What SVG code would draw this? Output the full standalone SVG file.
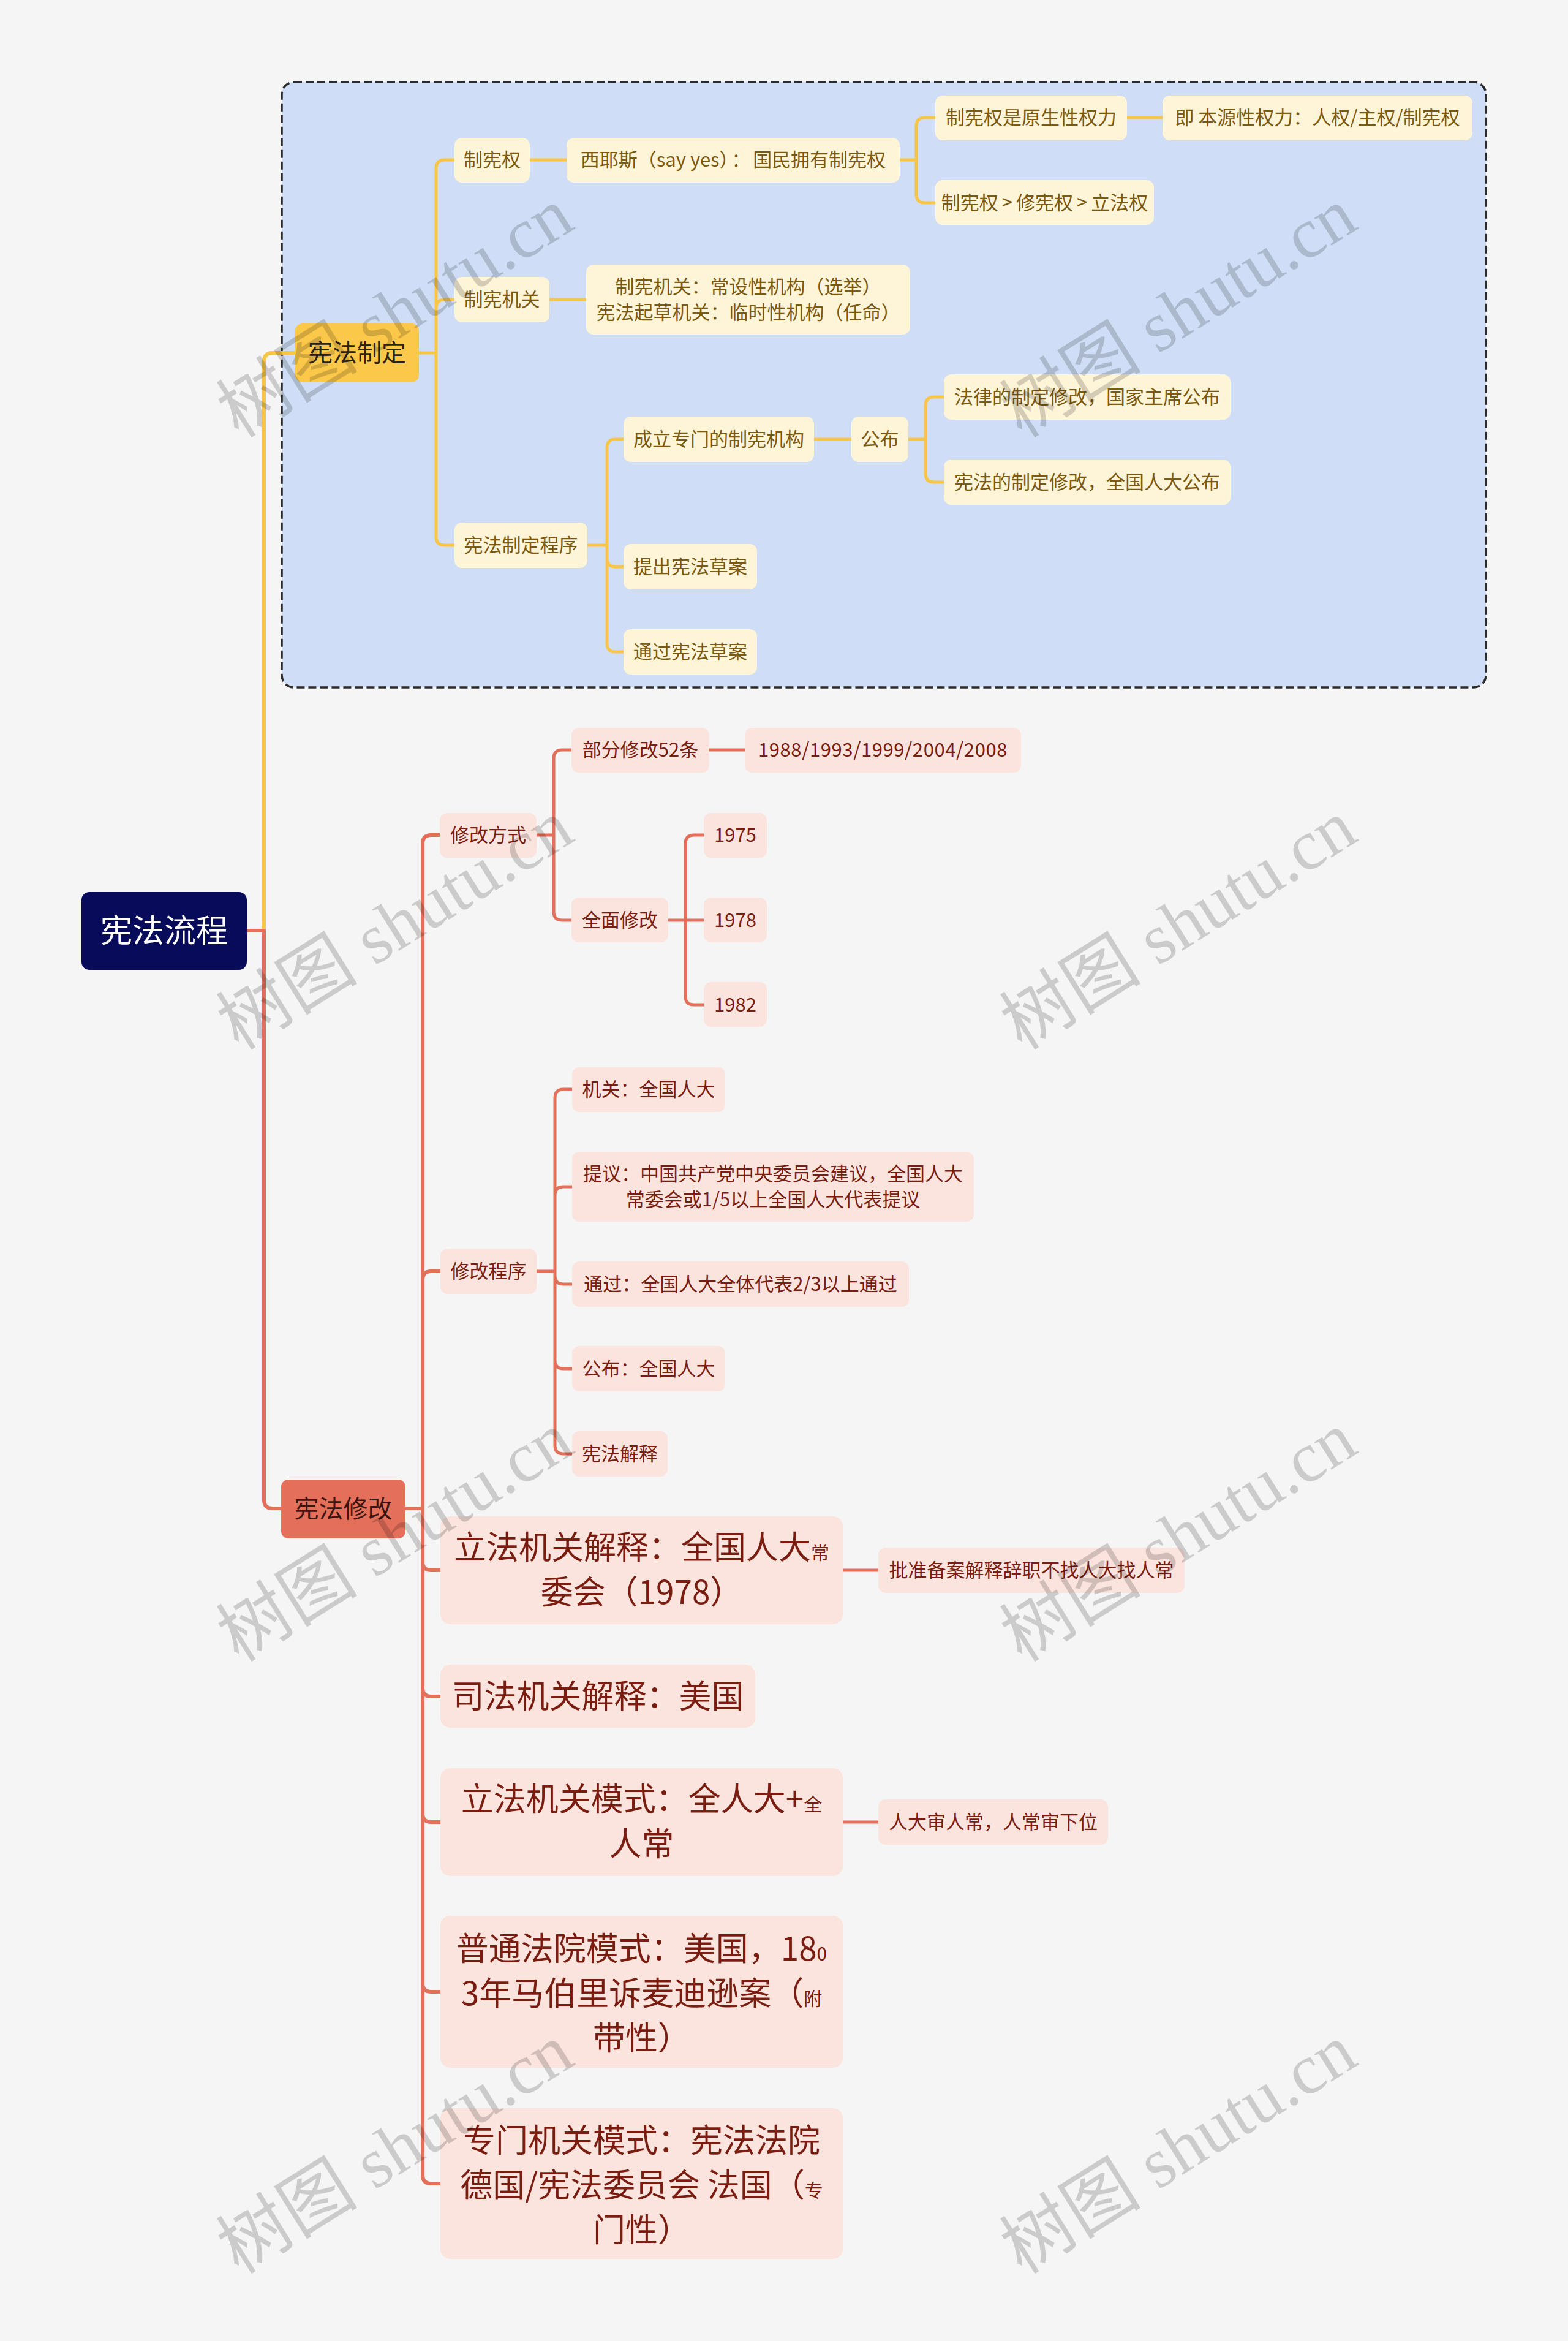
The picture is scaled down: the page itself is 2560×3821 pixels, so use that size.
<svg xmlns="http://www.w3.org/2000/svg" width="2560" height="3821" viewBox="0 0 2560 3821">
<style>
text{font-family:"Noto Sans CJK SC","Noto Sans",sans-serif;text-anchor:middle}
.ny{fill:#fef4d8}
.ty{fill:#7b5a10;font-size:31px}
.np{fill:#fbe4de}
.tp{fill:#7a1c10;font-size:31px}
.tl{font-size:53px}
.ts{font-size:30px}
.cy{fill:none;stroke:#f7c648;stroke-width:5;stroke-linecap:round;stroke-linejoin:round}
.cr{fill:none;stroke:#e2705b;stroke-width:5;stroke-linecap:round;stroke-linejoin:round}
.w6{stroke-width:6}
.wm{font-family:"Liberation Serif","Noto Sans CJK SC",serif;font-size:116px;fill:#000;fill-opacity:.17;dominant-baseline:central}
</style>
<rect x="0" y="0" width="2560" height="3821" fill="#f5f5f5"/>
<rect x="460" y="134" width="1966" height="988" rx="20" fill="#cfdef6" stroke="#2b2b2b" stroke-width="3.5" stroke-dasharray="13 6"/>

<g id="connectors">
<path class="cy w6" d="M431,1519 V590 Q431,576 445,576 H484"/>
<path class="cr w6" d="M403,1519 H431 V2448 Q431,2462 445,2462 H459"/>
<path class="cy" d="M684,576 H712 M712,576 V275 Q712,261 726,261 H742 M712,576 V503 Q712,489 726,489 H742 M712,576 V876 Q712,890 726,890 H742"/>
<path class="cy" d="M865,261 H925"/>
<path class="cy" d="M1469,261 H1496 M1496,261 V206 Q1496,192 1510,192 H1527 M1496,261 V317 Q1496,331 1510,331 H1527"/>
<path class="cy" d="M1840,192 H1898"/>
<path class="cy" d="M897,489 H957"/>
<path class="cy" d="M959,890 H991 M991,890 V731 Q991,717 1005,717 H1018 M991,890 V911 Q991,925 1005,925 H1018 M991,890 V1050 Q991,1064 1005,1064 H1018"/>
<path class="cy" d="M1329,717 H1390"/>
<path class="cy" d="M1483,717 H1511 M1511,717 V662 Q1511,648 1525,648 H1541 M1511,717 V773 Q1511,787 1525,787 H1541"/>
<path class="cr w6" d="M662,2462 H690 M690,2462 V1377 Q690,1363 704,1363 H719 M690,2462 V2089 Q690,2075 704,2075 H719 M690,2462 V2549 Q690,2563 704,2563 H719 M690,2462 V2755 Q690,2769 704,2769 H719 M690,2462 V2960 Q690,2974 704,2974 H719 M690,2462 V3237 Q690,3251 704,3251 H719 M690,2462 V3550 Q690,3564 704,3564 H719"/>
<path class="cr" d="M876,1363 H904 M904,1363 V1238 Q904,1224 918,1224 H933 M904,1363 V1488 Q904,1502 918,1502 H933"/>
<path class="cr" d="M1158,1224 H1216"/>
<path class="cr" d="M1091,1502 H1149 M1119,1502 V1377 Q1119,1363 1133,1363 H1149 M1119,1502 V1626 Q1119,1640 1133,1640 H1149"/>
<path class="cr" d="M876,2075 H906 M906,2075 V1792 Q906,1778 920,1778 H934 M906,2075 V1951 Q906,1937 920,1937 H934 M906,2075 V2082 Q906,2096 920,2096 H934 M906,2075 V2220 Q906,2234 920,2234 H934 M906,2075 V2359 Q906,2373 920,2373 H934"/>
<path class="cr" d="M1376,2563 H1434"/>
<path class="cr" d="M1376,2974 H1434"/>
</g>

<g id="root"><rect x="133" y="1456" width="270" height="127" rx="13" fill="#080b5a"/><text x="268" y="1538" font-size="52" fill="#ffffff">宪法流程</text></g>

<g id="n-zhiding"><rect x="482" y="528" width="202" height="96" rx="12" fill="#fcc84a"/><text x="583" y="590" font-size="40" fill="#2d2410">宪法制定</text></g>
<g id="n-zxq"><rect class="ny" x="742" y="225" width="123" height="73" rx="12"/><text class="ty" x="803.5" y="272">制宪权</text></g>
<g id="n-xys"><rect class="ny" x="925" y="225" width="544" height="73" rx="12"/><text class="ty" x="1197" y="272">西耶斯（say yes）<tspan dx="4">：</tspan><tspan dx="4">国民拥有制宪权</tspan></text></g>
<g id="n-ysx"><rect class="ny" x="1527" y="156" width="313" height="73" rx="12"/><text class="ty" x="1683.5" y="203">制宪权是原生性权力</text></g>
<g id="n-byx"><rect class="ny" x="1898" y="156" width="506" height="73" rx="12"/><text class="ty" x="2151" y="203">即 本源性权力：人权/主权/制宪权</text></g>
<g id="n-dx"><rect class="ny" x="1527" y="294" width="357" height="73" rx="12"/><text class="ty" x="1705.5" y="342">制宪权<tspan dx="6">&gt;</tspan><tspan dx="6">修宪权</tspan><tspan dx="6">&gt;</tspan><tspan dx="6">立法权</tspan></text></g>
<g id="n-zxjg"><rect class="ny" x="742" y="452" width="155" height="74" rx="12"/><text class="ty" x="819.5" y="500">制宪机关</text></g>
<g id="n-zxjg2"><rect class="ny" x="957" y="432" width="529" height="114" rx="12"/><text class="ty" x="1221.5" y="479">制宪机关：常设性机构（选举）</text><text class="ty" x="1221.5" y="521">宪法起草机关：临时性机构（任命）</text></g>
<g id="n-cx"><rect class="ny" x="742" y="853" width="217" height="74" rx="12"/><text class="ty" x="850.5" y="901">宪法制定程序</text></g>
<g id="n-cl"><rect class="ny" x="1018" y="680" width="311" height="74" rx="12"/><text class="ty" x="1173.5" y="728">成立专门的制宪机构</text></g>
<g id="n-gb"><rect class="ny" x="1390" y="680" width="93" height="74" rx="12"/><text class="ty" x="1436.5" y="728">公布</text></g>
<g id="n-fl"><rect class="ny" x="1541" y="611" width="468" height="74" rx="12"/><text class="ty" x="1775" y="659">法律的制定修改，国家主席公布</text></g>
<g id="n-xf"><rect class="ny" x="1541" y="750" width="468" height="74" rx="12"/><text class="ty" x="1775" y="798">宪法的制定修改，全国人大公布</text></g>
<g id="n-tc"><rect class="ny" x="1018" y="888" width="218" height="74" rx="12"/><text class="ty" x="1127" y="936">提出宪法草案</text></g>
<g id="n-tg"><rect class="ny" x="1018" y="1027" width="218" height="74" rx="12"/><text class="ty" x="1127" y="1075">通过宪法草案</text></g>

<g id="n-xiugai"><rect x="459" y="2415" width="203" height="96" rx="12" fill="#e46f5a"/><text x="560.5" y="2477" font-size="40" fill="#3b1610">宪法修改</text></g>
<g id="n-fs"><rect class="np" x="718" y="1327" width="158" height="73" rx="12"/><text class="tp" x="797" y="1374">修改方式</text></g>
<g id="n-bf"><rect class="np" x="933" y="1188" width="225" height="73" rx="12"/><text class="tp" x="1045.5" y="1235">部分修改52条</text></g>
<g id="n-yrs"><rect class="np" x="1216" y="1188" width="451" height="73" rx="12"/><text class="tp" x="1441.5" y="1235" letter-spacing="0.6">1988/1993/1999/2004/2008</text></g>
<g id="n-qm"><rect class="np" x="933" y="1465" width="158" height="73" rx="12"/><text class="tp" x="1012" y="1513">全面修改</text></g>
<g id="n-1975"><rect class="np" x="1149" y="1327" width="103" height="73" rx="12"/><text class="tp" x="1200.5" y="1374">1975</text></g>
<g id="n-1978"><rect class="np" x="1149" y="1465" width="103" height="73" rx="12"/><text class="tp" x="1200.5" y="1513">1978</text></g>
<g id="n-1982"><rect class="np" x="1149" y="1603" width="103" height="73" rx="12"/><text class="tp" x="1200.5" y="1651">1982</text></g>
<g id="n-cxu"><rect class="np" x="719" y="2038" width="157" height="74" rx="12"/><text class="tp" x="797.5" y="2086">修改程序</text></g>
<g id="n-jg"><rect class="np" x="934" y="1742" width="250" height="73" rx="12"/><text class="tp" x="1059" y="1789">机关：全国人大</text></g>
<g id="n-ty"><rect class="np" x="934" y="1880" width="656" height="114" rx="12"/><text class="tp" x="1262" y="1927">提议：中国共产党中央委员会建议，全国人大</text><text class="tp" x="1262" y="1969">常委会或1/5以上全国人大代表提议</text></g>
<g id="n-tgg"><rect class="np" x="934" y="2059" width="550" height="74" rx="12"/><text class="tp" x="1209" y="2107">通过：全国人大全体代表2/3以上通过</text></g>
<g id="n-gbb"><rect class="np" x="934" y="2197" width="250" height="74" rx="12"/><text class="tp" x="1059" y="2245">公布：全国人大</text></g>
<g id="n-js"><rect class="np" x="934" y="2336" width="156" height="74" rx="12"/><text class="tp" x="1012" y="2384">宪法解释</text></g>
<g id="n-lfjs"><rect class="np" x="719" y="2475" width="657" height="176" rx="16"/><text class="tp tl" x="1047.5" y="2545">立法机关解释：全国人大<tspan class="ts">常</tspan></text><text class="tp tl" x="1047.5" y="2618">委会（1978）</text></g>
<g id="n-pz"><rect class="np" x="1434" y="2526" width="500" height="74" rx="12"/><text class="tp" x="1684" y="2574">批准备案解释辞职不找人大找人常</text></g>
<g id="n-sf"><rect class="np" x="719" y="2717" width="514" height="103" rx="16"/><text class="tp tl" x="976" y="2788">司法机关解释：美国</text></g>
<g id="n-lfms"><rect class="np" x="719" y="2886" width="657" height="176" rx="16"/><text class="tp tl" x="1047.5" y="2956">立法机关模式：全人大+<tspan class="ts">全</tspan></text><text class="tp tl" x="1047.5" y="3029">人常</text></g>
<g id="n-rd"><rect class="np" x="1434" y="2937" width="375" height="74" rx="12"/><text class="tp" x="1621.5" y="2985">人大审人常，人常审下位</text></g>
<g id="n-pt"><rect class="np" x="719" y="3127" width="657" height="248" rx="16"/><text class="tp tl" x="1047.5" y="3200">普通法院模式：美国，18<tspan class="ts">0</tspan></text><text class="tp tl" x="1047.5" y="3273">3年马伯里诉麦迪逊案（<tspan class="ts">附</tspan></text><text class="tp tl" x="1047.5" y="3346">带性）</text></g>
<g id="n-zm"><rect class="np" x="719" y="3441" width="657" height="246" rx="16"/><text class="tp tl" x="1047.5" y="3513">专门机关模式：宪法法院</text><text class="tp tl" x="1047.5" y="3586">德国/宪法委员会 法国（<tspan class="ts">专</tspan></text><text class="tp tl" x="1047.5" y="3659">门性）</text></g>

<g id="watermarks">
<text class="wm" transform="translate(645,511) rotate(-32)">树图 shutu.cn</text>
<text class="wm" transform="translate(1924,511) rotate(-32)">树图 shutu.cn</text>
<text class="wm" transform="translate(645,1510) rotate(-32)">树图 shutu.cn</text>
<text class="wm" transform="translate(1924,1510) rotate(-32)">树图 shutu.cn</text>
<text class="wm" transform="translate(645,2509) rotate(-32)">树图 shutu.cn</text>
<text class="wm" transform="translate(1924,2509) rotate(-32)">树图 shutu.cn</text>
<text class="wm" transform="translate(645,3508) rotate(-32)">树图 shutu.cn</text>
<text class="wm" transform="translate(1924,3508) rotate(-32)">树图 shutu.cn</text>
</g>
</svg>
